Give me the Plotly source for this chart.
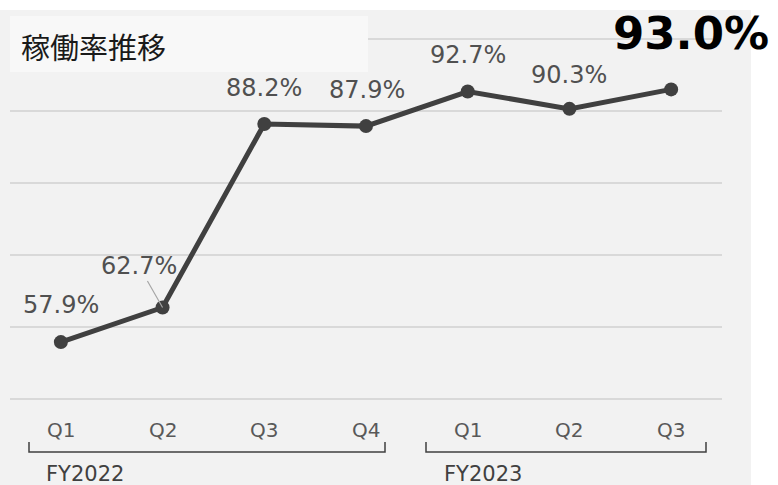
import plotly.graph_objects as go

# ---- data ----
quarters = ["Q1", "Q2", "Q3", "Q4", "Q1", "Q2", "Q3"]
fiscal_years = ["FY2022", "FY2023"]
rates = [57.9, 62.7, 88.2, 87.9, 92.7, 90.3, 93.0]
grid_values = [50, 60, 70, 80, 90, 100]
title_text = "稼働率推移"

W, H = 778, 485
ML, MR, MT, MB = 10, 56, 10, 65
PW, PH = W - ML - MR, H - MT - MB


def pxp(p):
    return (p - ML) / PW


def pyp(p):
    return (H - MB - p) / PH


fig = go.Figure()
xs = list(range(len(rates)))
fig.add_trace(go.Scatter(
    x=xs, y=rates, mode="lines+markers",
    line=dict(color="#404040", width=5),
    marker=dict(color="#404040", size=14),
    hoverinfo="skip", showlegend=False,
))

shapes = []
# gray background panel
shapes.append(dict(type="rect", xref="paper", yref="paper",
                   x0=pxp(0), x1=pxp(751), y0=pyp(485), y1=pyp(10),
                   fillcolor="#f2f2f2", line=dict(width=0), layer="below"))
# title box
shapes.append(dict(type="rect", xref="paper", yref="paper",
                   x0=pxp(10), x1=pxp(368), y0=pyp(72), y1=pyp(16),
                   fillcolor="#f8f8f8", line=dict(width=0), layer="above"))

step = PW / len(rates)


def xd(p):
    return (p - ML) / step - 0.5


# FY brackets
bracket_px = [(29, 385), (426, 706)]
ytop, ybot = pyp(442), pyp(452)
for (a, b) in bracket_px:
    x0, x1 = xd(a), xd(b)
    shapes.append(dict(type="path", xref="x", yref="paper",
                       path=f"M {x0},{ytop} L {x0},{ybot} L {x1},{ybot} L {x1},{ytop}",
                       line=dict(color="#404040", width=1.5)))

annotations = []
annotations.append(dict(text=title_text, xref="paper", yref="paper",
                        x=pxp(19), y=pyp(46), xanchor="left", yanchor="middle",
                        showarrow=False,
                        font=dict(family="Noto Sans CJK JP", size=29, color="#1a1a1a")))

label_font = dict(family="DejaVu Sans", size=24, color="#505050")
shifts = [(0, 37), (-24, 42), (0, 36), (1, 36), (0, 37), (0, 34), (20, 56)]
for i, (v, (dx, dy)) in enumerate(zip(rates, shifts)):
    txt = f"{v:.1f}%"
    if i == len(rates) - 1:
        annotations.append(dict(text=f"<b>{txt}</b>", x=i, y=v, xref="x", yref="y",
                                xshift=dx, yshift=dy, showarrow=False,
                                font=dict(family="DejaVu Sans", size=45, color="#000000")))
    elif i == 1:
        annotations.append(dict(text=txt, x=i, y=v, xref="x", yref="y",
                                ax=dx, ay=-dy, axref="pixel", ayref="pixel",
                                showarrow=True, arrowhead=0, arrowwidth=1.2,
                                arrowcolor="#a6a6a6", standoff=0,
                                font=label_font))
    else:
        annotations.append(dict(text=txt, x=i, y=v, xref="x", yref="y",
                                xshift=dx, yshift=dy, showarrow=False, font=label_font))

for i, q in enumerate(quarters):
    annotations.append(dict(text=q, x=i, y=pyp(430), xref="x", yref="paper",
                            yanchor="middle", showarrow=False,
                            font=dict(family="DejaVu Sans", size=20, color="#595959")))

fy_left_px = [44, 442]
for fy, lp in zip(fiscal_years, fy_left_px):
    annotations.append(dict(text=fy, x=xd(lp), y=pyp(474), xref="x", yref="paper",
                            xanchor="left", yanchor="middle", showarrow=False,
                            font=dict(family="DejaVu Sans", size=21, color="#404040")))

ymin = 50 - (H - MB - 399) / 7.2
ymax = 50 + (399 - MT) / 7.2

fig.update_layout(
    width=W, height=H,
    margin=dict(l=ML, r=MR, t=MT, b=MB),
    paper_bgcolor="#ffffff", plot_bgcolor="rgba(0,0,0,0)",
    shapes=shapes, annotations=annotations,
    xaxis=dict(range=[-0.5, len(rates) - 0.5], showgrid=False, zeroline=False,
               showticklabels=False, showline=False, fixedrange=True),
    yaxis=dict(range=[ymin, ymax], tickvals=grid_values, showticklabels=False,
               gridcolor="#d9d9d9", gridwidth=2, zeroline=False, showline=False,
               fixedrange=True),
)

fig.write_html(
    "out.html",
    config={"displayModeBar": False},
    post_script="document.body.style.margin='0';document.body.style.overflow='hidden';",
)
